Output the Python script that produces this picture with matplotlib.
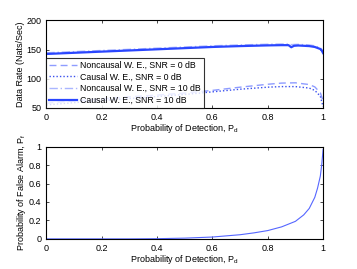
import matplotlib
matplotlib.use("Agg")
import matplotlib.pyplot as plt
import numpy as np

plt.rcParams['font.family'] = ['Liberation Sans', 'DejaVu Sans']
plt.rcParams['mathtext.default'] = 'regular'

# Top panel data (Pd vs data rate)
pd_top = [0.0, 0.1, 0.2, 0.3, 0.4, 0.5, 0.6, 0.7, 0.8, 0.85, 0.875, 0.885, 0.895, 0.91, 0.95, 0.97, 0.99, 0.995, 1.0]
causal_10 = [142.5, 144.5, 146.5, 148.5, 150.5, 152.5, 154.5, 156.0, 157.2, 157.6, 157.6, 154.0, 156.5, 157.0, 156.0, 154.5, 151.0, 148.5, 144.0]
noncausal_10 = [144.5, 146.5, 148.5, 150.5, 152.5, 154.5, 156.5, 158.0, 159.2, 159.6, 159.6, 158.5, 158.8, 159.0, 158.0, 156.5, 153.0, 150.5, 146.5]
pd_low = [0.0, 0.1, 0.2, 0.3, 0.4, 0.5, 0.6, 0.7, 0.8, 0.85, 0.9, 0.95, 0.97, 0.99, 1.0]
noncausal_0 = [58.0, 62.0, 65.5, 69.0, 72.0, 75.5, 80.0, 85.5, 90.5, 92.5, 93.0, 90.0, 86.0, 76.0, 62.0]
causal_0 = [55.0, 59.0, 62.5, 66.0, 69.5, 73.0, 77.5, 82.0, 85.5, 86.5, 86.5, 84.0, 80.0, 70.0, 52.0]

# Bottom panel data (Pd vs Pf)
pd_bot = [0.0, 0.3, 0.4, 0.5, 0.6, 0.7, 0.75, 0.8, 0.85, 0.9, 0.93, 0.95, 0.97, 0.98, 0.99, 0.995, 1.0]
pf_bot = [0.0, 0.0, 0.002, 0.008, 0.02, 0.045, 0.065, 0.09, 0.13, 0.19, 0.26, 0.33, 0.45, 0.55, 0.68, 0.8, 0.97]

fig = plt.figure(figsize=(3.57, 2.69), dpi=100)
ax1 = fig.add_axes([0.130, 0.599, 0.775, 0.325])
ax2 = fig.add_axes([0.130, 0.112, 0.775, 0.343])

ax1.plot(pd_low, noncausal_0, linestyle=(0, (5, 3)), color='#8e9cff', lw=1.0, label='Noncausal W. E., SNR = 0 dB')
ax1.plot(pd_low, causal_0, linestyle=(0, (1, 1.5)), color='#3a50ee', lw=1.0, label='Causal W. E., SNR = 0 dB')
ax1.plot(pd_top, noncausal_10, linestyle=(0, (6, 2, 1, 2)), color='#aab6ff', lw=1.0, label='Noncausal W. E., SNR = 10 dB')
ax1.plot(pd_top, causal_10, linestyle='-', color='#2a46ff', lw=1.6, label='Causal W. E., SNR = 10 dB')

ax1.set_xlim(0, 1)
ax1.set_ylim(50, 200)
ax1.set_xticks([0, 0.2, 0.4, 0.6, 0.8, 1])
ax1.set_xticklabels(['0', '0.2', '0.4', '0.6', '0.8', '1'])
ax1.set_yticks([50, 100, 150, 200])
ax1.set_xlabel('Probability of Detection, P$_d$', fontsize=6.5, labelpad=0.5)
ax1.set_ylabel('Data Rate (Nats/Sec)', fontsize=6.5, labelpad=1)
leg = ax1.legend(loc='lower left', fontsize=6.3, frameon=True, fancybox=False,
                 edgecolor='black', borderaxespad=0, handlelength=3.2,
                 borderpad=0.35, labelspacing=0.3, handletextpad=0.3)
leg.get_frame().set_linewidth(0.8)

ax2.plot(pd_bot, pf_bot, color='#5566ff', lw=0.8)
ax2.set_xlim(0, 1)
ax2.set_ylim(0, 1)
ax2.set_xticks([0, 0.2, 0.4, 0.6, 0.8, 1])
ax2.set_xticklabels(['0', '0.2', '0.4', '0.6', '0.8', '1'])
ax2.set_yticks([0, 0.2, 0.4, 0.6, 0.8, 1])
ax2.set_yticklabels(['0', '0.2', '0.4', '0.6', '0.8', '1'])
ax2.set_xlabel('Probability of Detection, P$_d$', fontsize=6.5, labelpad=0.5)
ax2.set_ylabel('Probability of False Alarm, P$_f$', fontsize=6.5, labelpad=1)

for ax in (ax1, ax2):
    ax.tick_params(direction='in', top=True, right=True, labelsize=6.5, length=2.5, width=0.5, pad=3.5)
    for s in ax.spines.values():
        s.set_linewidth(0.8)

fig.savefig('out.png', dpi=100)
